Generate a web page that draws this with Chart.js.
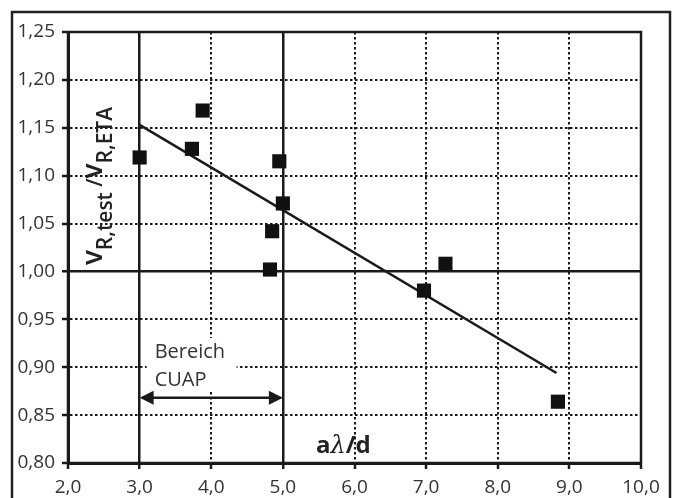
<!DOCTYPE html>
<html>
<head>
<meta charset="utf-8">
<script src="https://cdn.jsdelivr.net/npm/chart.js@4"></script>
<style>
  html, body { margin: 0; padding: 0; background: #fff; }
  #wrap { width: 676px; height: 498px; }
</style>
</head>
<body>
<div id="wrap"><canvas id="c" width="676" height="498"></canvas></div>
<script>
// measured points (a/d, V_test / V_ETA)
const ratioX = [3.00, 3.73, 3.88, 4.95, 5.00, 4.85, 4.82, 6.97, 7.27, 8.84];
const ratioY = [1.119, 1.128, 1.168, 1.115, 1.071, 1.042, 1.002, 0.980, 1.008, 0.864];

// trend line end points
const trendX = [3.00, 8.82];
const trendY = [1.153, 0.894];

// "Bereich CUAP" range arrow
const rangeX = [3.0, 5.0];
const rangeY = 0.868;
const rangeLabel = ['Bereich', 'CUAP'];

const xTicks = [2, 3, 4, 5, 6, 7, 8, 9, 10];
const yTicks = [0.80, 0.85, 0.90, 0.95, 1.00, 1.05, 1.10, 1.15, 1.20, 1.25];

const solidX = [3, 5];
const solidY = [1.00];

const INK = '#1a1a1a';
const TXT = '#333';
const fmt = (v, d) => v.toFixed(d).replace('.', ',');

const isSolid = (list, v) => list.some(s => Math.abs(s - v) < 1e-6);

// frame, annotation box, axis titles
const decor = {
  id: 'decor',
  beforeDatasetsDraw(chart) {
    const { ctx, scales: { x, y } } = chart;
    const x0 = x.getPixelForValue(rangeX[0]);
    const x1 = x.getPixelForValue(rangeX[1]);
    const ya = y.getPixelForValue(rangeY);

    ctx.save();
    // white patch behind label
    ctx.fillStyle = '#fff';
    ctx.fillRect(x0 + 7, ya - 60, 90, 54);

    ctx.fillStyle = TXT;
    ctx.font = '20px "Open Sans"';
    ctx.textBaseline = 'middle';
    ctx.textAlign = 'left';
    ctx.fillText(rangeLabel[0], x0 + 15, ya - 46);
    ctx.fillText(rangeLabel[1], x0 + 15, ya - 18);

    // double arrow
    ctx.strokeStyle = INK;
    ctx.fillStyle = INK;
    ctx.lineWidth = 2.5;
    ctx.beginPath();
    ctx.moveTo(x0 + 8, ya);
    ctx.lineTo(x1 - 8, ya);
    ctx.stroke();
    ctx.beginPath();
    ctx.moveTo(x0, ya); ctx.lineTo(x0 + 14, ya - 7); ctx.lineTo(x0 + 14, ya + 7); ctx.closePath();
    ctx.fill();
    ctx.beginPath();
    ctx.moveTo(x1, ya); ctx.lineTo(x1 - 14, ya - 7); ctx.lineTo(x1 - 14, ya + 7); ctx.closePath();
    ctx.fill();
    ctx.restore();
  },
  afterDraw(chart) {
    const { ctx, chartArea: a } = chart;
    ctx.save();
    // plot box
    ctx.strokeStyle = INK;
    ctx.lineWidth = 2.5;
    ctx.strokeRect(a.left, a.top, a.right - a.left, a.bottom - a.top);
    // outer frame (bottom edge cut off)
    ctx.lineWidth = 2.5;
    ctx.strokeStyle = '#222';
    ctx.strokeRect(12, 12, 658, 520);

    // y title, rotated, with subscripts
    ctx.translate(102, 186);
    ctx.rotate(-Math.PI / 2);
    const parts = [
      ['v', '600 28px "Open Sans"', 0],
      ['R,test', '600 21px "Open Sans"', 10],
      [' /', '600 21px "Open Sans"', 0],
      ['v', '600 28px "Open Sans"', 0],
      ['R,ETA', '600 21px "Open Sans"', 10]
    ];
    let total = 0;
    parts.forEach(p => { ctx.font = p[1]; total += ctx.measureText(p[0]).width; });
    let px = -total / 2;
    ctx.fillStyle = '#222';
    ctx.textBaseline = 'alphabetic';
    ctx.textAlign = 'left';
    parts.forEach(p => {
      ctx.font = p[1];
      ctx.fillText(p[0], px, p[2]);
      px += ctx.measureText(p[0]).width;
    });
    ctx.setTransform(1, 0, 0, 1, 0, 0);

    // x title
    let tx = 316;
    const xt = [
      ['a', 'bold 24px "Open Sans"'],
      ['\u03bb', 'italic 24px "DejaVu Serif"'],
      ['/d', 'bold 24px "Open Sans"']
    ];
    xt.forEach(p => {
      ctx.font = p[1];
      ctx.fillText(p[0], tx, 453);
      tx += ctx.measureText(p[0]).width;
    });
    ctx.restore();
  }
};

new Chart(document.getElementById('c'), {
  type: 'scatter',
  data: {
    datasets: [
      {
        type: 'line',
        data: trendX.map((v, i) => ({ x: v, y: trendY[i] })),
        borderColor: INK,
        borderWidth: 2.5,
        pointRadius: 0,
        fill: false,
        order: 1
      },
      {
        data: ratioX.map((v, i) => ({ x: v, y: ratioY[i] })),
        pointStyle: 'rect',
        pointRadius: 10,
        pointBorderWidth: 0,
        backgroundColor: '#111',
        borderColor: '#111',
        order: 0
      }
    ]
  },
  options: {
    responsive: false,
    animation: false,
    devicePixelRatio: 1,
    layout: { padding: { top: 32, right: 35, left: 0, bottom: 0 } },
    plugins: { legend: { display: false }, tooltip: { enabled: false } },
    scales: {
      x: {
        type: 'linear',
        min: 2, max: 10,
        afterFit: s => { s.height = 35; },
        afterBuildTicks: s => { s.ticks = xTicks.map(v => ({ value: v })); },
        ticks: {
          color: TXT,
          font: { family: '"Open Sans"', size: 19 },
          padding: 7,
          maxRotation: 0,
          callback: v => fmt(v, 1)
        },
        grid: {
          color: INK,
          lineWidth: c => isSolid(solidX, c.tick ? c.tick.value : NaN) ? 2.5 : 2,
          tickLength: 6,
          tickColor: INK,
          tickWidth: 2.5,
          tickBorderDash: []
        },
        border: {
          display: true,
          color: INK,
          width: 3,
          dash: c => (c.tick && !isSolid(solidX, c.tick.value)) ? [2.5, 2.5] : []
        }
      },
      y: {
        type: 'linear',
        min: 0.8, max: 1.25,
        afterFit: s => { s.width = 68; },
        afterBuildTicks: s => { s.ticks = yTicks.map(v => ({ value: v })); },
        ticks: {
          color: TXT,
          font: { family: '"Open Sans"', size: 19 },
          padding: 7,
          callback: v => fmt(v, 2)
        },
        grid: {
          color: INK,
          lineWidth: c => isSolid(solidY, c.tick ? c.tick.value : NaN) ? 2.5 : 2,
          tickLength: 6,
          tickColor: INK,
          tickWidth: 2.5,
          tickBorderDash: []
        },
        border: {
          display: true,
          color: INK,
          width: 3,
          dash: c => (c.tick && !isSolid(solidY, c.tick.value)) ? [2.5, 2.5] : []
        }
      }
    }
  },
  plugins: [decor]
});
</script>
</body>
</html>
